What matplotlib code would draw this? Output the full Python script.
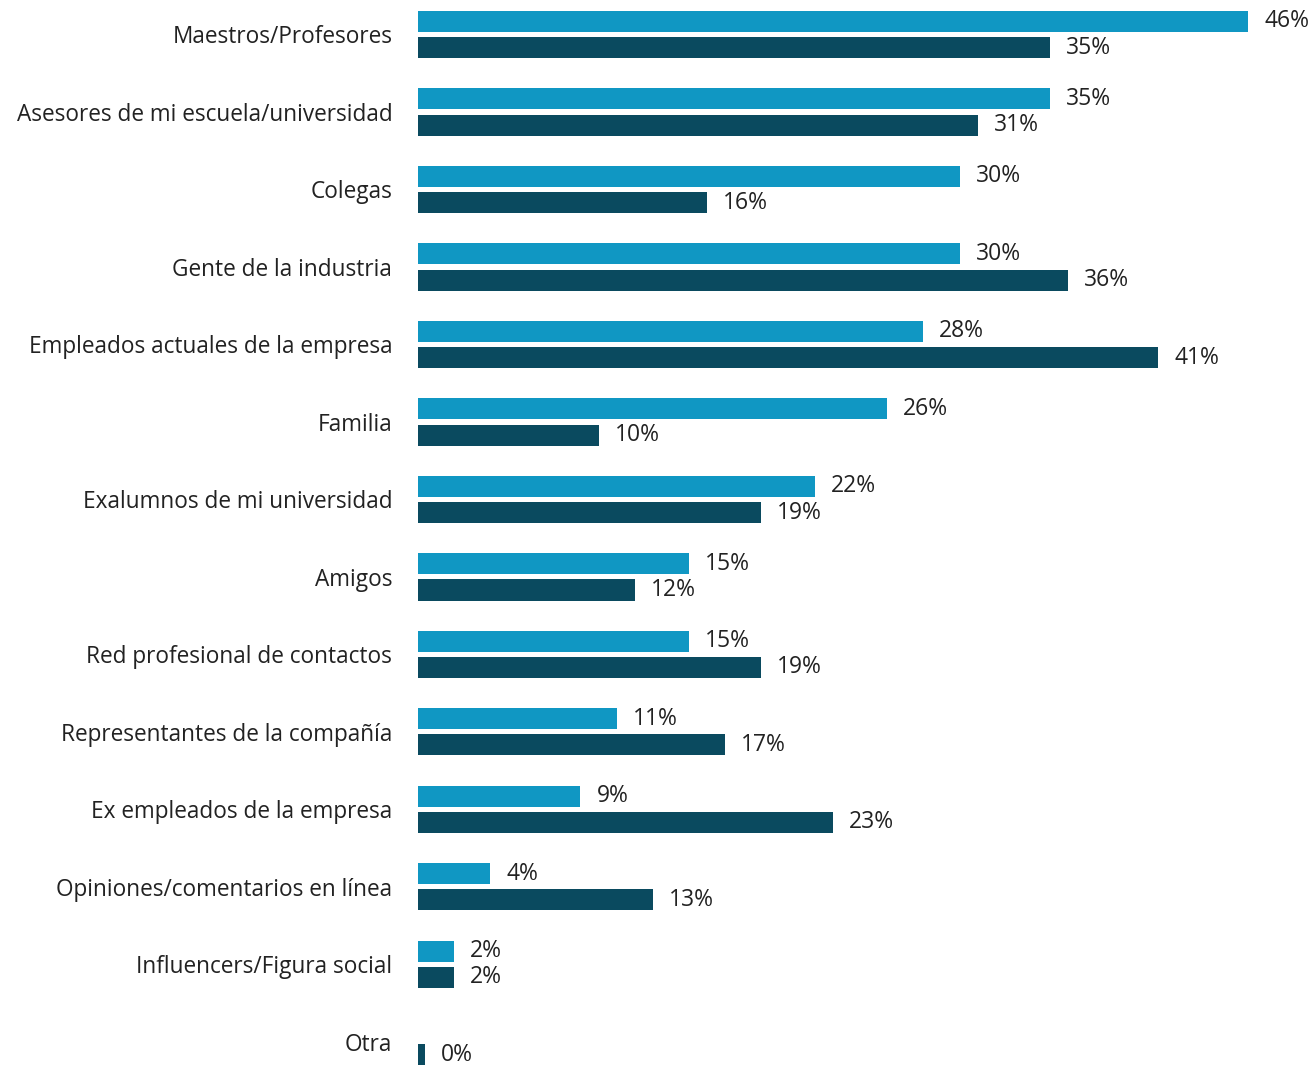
import matplotlib.pyplot as plt
import numpy as np

categories = [
    'Maestros/Profesores',
    'Asesores de mi escuela/universidad',
    'Colegas',
    'Gente de la industria',
    'Empleados actuales de la empresa',
    'Familia',
    'Exalumnos de mi universidad',
    'Amigos',
    'Red profesional de contactos',
    'Representantes de la compañía',
    'Ex empleados de la empresa',
    'Opiniones/comentarios en línea',
    'Influencers/Figura social',
    'Otra',
]
serie_clara = [46, 35, 30, 30, 28, 26, 22, 15, 15, 11, 9, 4, 2, 0]
serie_oscura = [35, 31, 16, 36, 41, 10, 19, 12, 19, 17, 23, 13, 2, 0.4]

color_claro = '#1097C3'
color_oscuro = '#0A4A5F'

plt.rcParams['font.family'] = ['Open Sans', 'DejaVu Sans']

fig = plt.figure(figsize=(13.14, 10.66), dpi=100)
ax = fig.add_axes([418 / 1314, 0, 1 - 418 / 1314, 1])

y = np.arange(len(categories))
h = 0.271
off = 0.168

for vals, col, dy in [(serie_clara, color_claro, -off), (serie_oscura, color_oscuro, off)]:
    for yi, v in zip(y, vals):
        if v <= 0:
            continue
        ax.barh(yi + dy, v, height=h, color=col)
        ax.annotate(f'{round(v)}%', xy=(v, yi + dy), xytext=(11.5, 0),
                    textcoords='offset points', va='center', ha='left',
                    fontsize=16.5, color='#222222')

ax.set_xlim(0, 896 / 18.05)
ax.set_ylim(13.31, -0.445)
ax.set_yticks(y)
ax.set_yticklabels(categories, fontsize=16.3, color='#222222')
ax.tick_params(axis='y', length=0, pad=18.5)
ax.set_xticks([])
for s in ax.spines.values():
    s.set_visible(False)

fig.savefig('out.png', dpi=100)
